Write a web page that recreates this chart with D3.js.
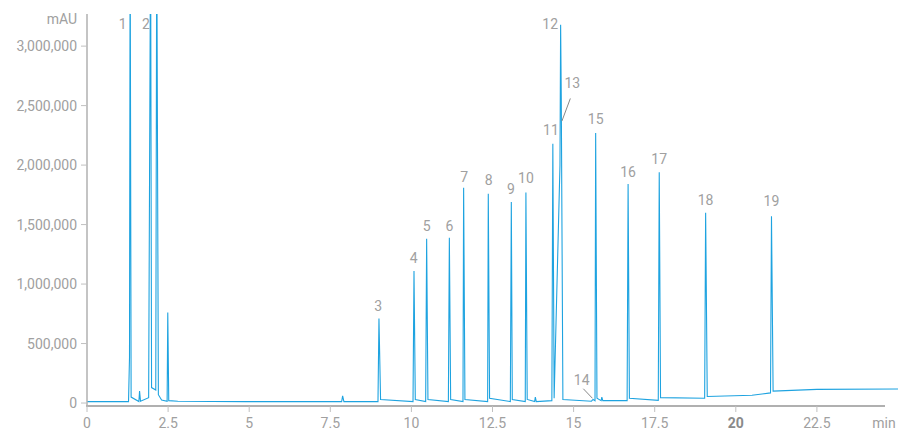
<!DOCTYPE html>
<html><head><meta charset="utf-8">
<script src="https://cdn.jsdelivr.net/npm/d3@7"></script>
<style>body{margin:0;background:#fff}text{font-family:Roboto,sans-serif}</style>
</head><body><svg width="900" height="431"></svg>
<script>
// trace points (min, mAU)
const times = [0, 1.28, 1.31, 1.33, 1.36, 1.6, 1.62, 1.65, 1.9, 1.96, 1.99, 2.12, 2.15, 2.2, 2.3, 2.47, 2.49, 2.52, 2.8, 4.9, 7.85, 7.88, 7.92,
  8.97, 9.0, 9.05, 10.05, 10.08, 10.12, 10.44, 10.47, 10.51, 11.14, 11.17, 11.21, 11.59, 11.61, 11.65, 12.35, 12.37, 12.41,
  13.05, 13.08, 13.11, 13.51, 13.53, 13.57, 13.8, 13.82, 13.85, 14.33, 14.36, 14.4, 14.58, 14.6, 14.62, 14.67, 15.55, 15.6,
  15.66, 15.68, 15.72, 15.85, 15.87, 15.9, 16.65, 16.68, 16.72, 17.61, 17.64, 17.68, 19.04, 19.07, 19.12, 20.5, 21.07, 21.1,
  21.15, 22.5, 25];
const values = [12000, 12000, 380000, 4000000, 50000, 12000, 100000, 15000, 45000, 4000000, 130000, 110000, 4000000, 70000, 25000, 15000, 760000, 20000, 15000, 12000, 12000, 60000, 12000,
  12000, 710000, 30000, 12000, 1110000, 30000, 12000, 1380000, 30000, 12000, 1390000, 30000, 12000, 1810000, 30000, 12000, 1760000, 40000,
  12000, 1690000, 30000, 12000, 1770000, 30000, 12000, 50000, 12000, 20000, 2180000, 40000, 2000000, 3180000, 2570000, 30000, 15000, 30000,
  20000, 2270000, 40000, 20000, 50000, 20000, 20000, 1840000, 40000, 22000, 1940000, 45000, 40000, 1600000, 55000, 65000, 85000, 1570000,
  100000, 115000, 118000];

const peakLabels = ["1", "2", "3", "4", "5", "6", "7", "8", "9", "10", "11", "12", "13", "15", "16", "17", "18", "19"];
const labelTimes = [1.1, 1.82, 8.98, 10.07, 10.47, 11.17, 11.63, 12.38, 13.07, 13.53, 14.3, 14.28, 14.96, 15.68, 16.68, 17.64, 19.07, 21.1];
const labelValues = [3140000, 3140000, 770000, 1175000, 1445000, 1445000, 1860000, 1830000, 1755000, 1850000, 2255000, 3140000, 2650000, 2345000, 1900000, 2010000, 1665000, 1655000];
const yTicks = [0, 500000, 1000000, 1500000, 2000000, 2500000, 3000000];
const xTicks = [0, 2.5, 5, 7.5, 10, 12.5, 15, 17.5, 20, 22.5];

const svg = d3.select("svg");
const x = d3.scaleLinear().domain([0, 25]).range([87, 898]);
const y = d3.scaleLinear().domain([-25000, 3270000]).range([406, 14]);
const grey = "#a0a0a0";

svg.append("clipPath").attr("id", "c").append("rect")
  .attr("x", 87).attr("y", 14).attr("width", 811).attr("height", 392);

// trace
const line = d3.line().x((d, i) => x(times[i])).y(d => y(d));
svg.append("path").datum(values).attr("clip-path", "url(#c)")
  .attr("fill", "none").attr("stroke", "#1ea3e0").attr("stroke-width", 1.1)
  .attr("d", line);

// axes
svg.append("line").attr("x1", 86).attr("x2", 885).attr("y1", 406).attr("y2", 406)
  .attr("stroke", "#b0b0b0").attr("stroke-width", 2);
svg.append("line").attr("x1", 87).attr("x2", 87).attr("y1", 14).attr("y2", 407)
  .attr("stroke", "#b0b0b0").attr("stroke-width", 1.5);

yTicks.forEach(t => {
  svg.append("line").attr("x1", 81).attr("x2", 87).attr("y1", y(t)).attr("y2", y(t)).attr("stroke", "#c0c0c0");
  svg.append("text").attr("x", 77).attr("y", y(t) + 5).attr("text-anchor", "end")
    .attr("font-size", 14).attr("fill", grey).text(d3.format(",")(t));
});
svg.append("text").attr("x", 77).attr("y", 24).attr("text-anchor", "end")
  .attr("font-size", 14).attr("fill", grey).text("mAU");

xTicks.forEach(t => {
  svg.append("line").attr("x1", x(t)).attr("x2", x(t)).attr("y1", 406).attr("y2", 412).attr("stroke", "#c0c0c0");
  svg.append("text").attr("x", x(t)).attr("y", 428).attr("text-anchor", "middle")
    .attr("font-size", 14).attr("fill", t === 20 ? "#8a8a8a" : grey)
    .attr("font-weight", t === 20 ? "bold" : "normal").text(t);
});
svg.append("text").attr("x", 884).attr("y", 428).attr("text-anchor", "middle")
  .attr("font-size", 14).attr("fill", grey).text("min");

// peak labels
peakLabels.forEach((p, i) => {
  svg.append("text").attr("x", x(labelTimes[i])).attr("y", y(labelValues[i]))
    .attr("text-anchor", "middle").attr("font-size", 14).attr("fill", grey).text(p);
});
// leader lines for 13 and 14
svg.append("line").attr("x1", x(14.9)).attr("y1", y(2560000)).attr("x2", x(14.64)).attr("y2", y(2370000))
  .attr("stroke", "#888");
svg.append("text").attr("x", x(15.25)).attr("y", y(150000)).attr("text-anchor", "middle")
  .attr("font-size", 14).attr("fill", grey).text("14");
svg.append("line").attr("x1", x(15.3)).attr("y1", y(120000)).attr("x2", x(15.58)).attr("y2", y(40000))
  .attr("stroke", "#888");
</script></body></html>
